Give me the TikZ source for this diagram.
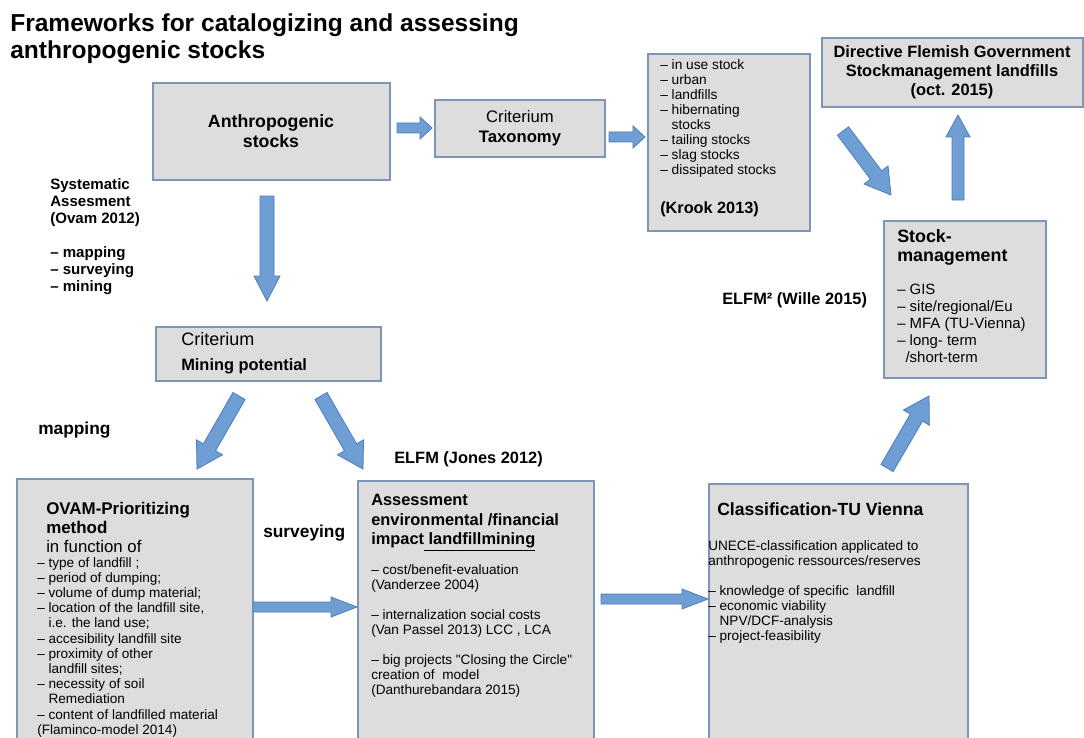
\documentclass[tikz,border=0pt]{standalone}
\usepackage{fontspec}
\setmainfont{Liberation Sans}
\newfontfamily\rawfont{Liberation Sans}
\usetikzlibrary{calc,fit}
\definecolor{boxfill}{HTML}{DDDDDD}
\definecolor{boxline}{HTML}{7F95B5}
\definecolor{arrfill}{HTML}{6F9ED4}
\definecolor{arrline}{HTML}{4D7EBA}
\tikzset{
  box/.style={draw=boxline, fill=boxfill, line width=1pt, inner sep=0pt},
  txt/.style={inner sep=0pt, align=left, anchor=north west},
  line/.style={inner sep=0pt, anchor=base west},
  blockarrowstyle/.style={fill=arrfill, draw=arrline, line width=0.6pt, line join=miter},
}
\newcommand\blockarrow[5]{%
  \coordinate (ba-n) at ($(#2)!#5!(#1)$);
  \draw[blockarrowstyle] ($(#1)!#3!90:(#2)$) -- ($(ba-n)!#3!-90:(#1)$) -- ($(ba-n)!#4!-90:(#1)$) -- (#2) -- ($(ba-n)!#4!90:(#1)$) -- ($(ba-n)!#3!90:(#1)$) -- ($(#1)!#3!-90:(#2)$) -- cycle;
}
\begin{document}
\begin{tikzpicture}[x=0.75pt,y=-0.75pt]
\useasboundingbox (0,0) rectangle (1084,738);
\path[fill=white] (0,0) rectangle (1084,738);

% boxes
\node[box, fit={(153,83)(390,180)}] (anthro) {};
\node[box, fit={(435,100)(605,157)}] (tax) {};
\node[box, fit={(648,54)(810,231)}] (krook) {};
\node[box, fit={(822,38)(1083,107)}] (direct) {};
\node[box, fit={(884,221)(1046,378)}] (stockm) {};
\node[box, fit={(156,327)(381,381)}] (mining) {};
\node[box, fit={(17,479)(253,745)}] (ovam) {};
\node[box, fit={(358,481)(594,745)}] (assess) {};
\node[box, fit={(709,484)(968,745)}] (classif) {};

% title and free labels
\node[txt, font=\fontsize{18.4pt}{20.25pt}\selectfont\bfseries] (title) at (10,13)
  {Frameworks for catalogizing and assessing\\anthropogenic stocks};
\node[txt, font=\fontsize{11.3pt}{12.75pt}\selectfont\bfseries] (syst) at (50,178)
  {Systematic\\Assesment\\(Ovam 2012)\\[12.75pt]– mapping\\– surveying\\– mining};
\node[line, font=\fontsize{13pt}{15pt}\selectfont\bfseries] (lmap) at (38,434.5) {mapping};
\node[line, font=\fontsize{13pt}{15pt}\selectfont\bfseries] (lsurv) at (263,537.5) {surveying};
\node[line, font=\fontsize{12.3pt}{15pt}\selectfont\bfseries] (ljones) at (394,463) {ELFM (Jones 2012)};
\node[line, font=\fontsize{12.3pt}{15pt}\selectfont\bfseries] (lwille) at (722,304) {ELFM² (Wille 2015)};

% box texts
\node[inner sep=0pt, align=center, font=\fontsize{13.3pt}{15pt}\selectfont\bfseries] (tanthro) at (271,131)
  {Anthropogenic\\stocks};
\node[inner sep=0pt, align=center, font=\fontsize{12.5pt}{15pt}\selectfont] (ttax) at (520,128)
  {Criterium\\\textbf{Taxonomy}};
\node[txt, font=\fontsize{10.3pt}{11.3pt}\selectfont] (tkrook) at (660,59)
  {– in use stock\\– urban\\– landfills\\– hibernating\\\phantom{– }stocks\\– tailing stocks\\– slag stocks\\– dissipated stocks};
\node[line, font=\fontsize{12.2pt}{15pt}\selectfont\bfseries] (tkrook2) at (660,213) {(Krook 2013)};
\node[inner sep=0pt, align=center, font=\fontsize{12.3pt}{14.25pt}\selectfont\bfseries] (tdirect) at (952,72)
  {Directive Flemish Government\\Stockmanagement landfills\\(oct. 2015)};
\node[txt, font=\fontsize{13.4pt}{14.25pt}\selectfont\bfseries] (tstock) at (897,229)
  {Stock-\\management};
\node[txt, font=\fontsize{11.2pt}{12.75pt}\selectfont] (tstock2) at (897,284)
  {– GIS\\– site/regional/Eu\\– MFA (TU-Vienna)\\– long- term\\\phantom{–}/short-term};
\node[line, font=\fontsize{13.5pt}{15pt}\selectfont] (tmin1) at (181,345.5) {Criterium};
\node[line, font=\fontsize{12.3pt}{15pt}\selectfont\bfseries] (tmin2) at (181,370) {Mining potential};
\node[txt, font=\fontsize{12.7pt}{14.25pt}\selectfont\bfseries] (tovam) at (46,502)
  {OVAM-Prioritizing\\method};
\node[line, font=\fontsize{12.6pt}{15pt}\selectfont] (tovam2) at (46,552) {in function of};
\node[txt, font=\fontsize{10.2pt}{11.4pt}\selectfont] (tovam3) at (37,557)
  {– type of landfill ;\\– period of dumping;\\– volume of dump material;\\– location of the landfill site,\\\phantom{– }i.e. the land use;\\– accesibility landfill site\\– proximity of other\\\phantom{– }landfill sites;\\– necessity of soil\\\phantom{– }Remediation\\– content of landfilled material\\(Flaminco-model 2014)};
\node[txt, font=\fontsize{12.3pt}{14.6pt}\selectfont\bfseries] (tassess) at (371,494)
  {Assessment\\environmental /financial\\impact\underline{ landfillmining}};
\node[txt, font=\fontsize{10.2pt}{11.25pt}\selectfont] (tassess2) at (371,564)
  {– cost/benefit-evaluation\\(Vanderzee 2004)\\[11.25pt]– internalization social costs\\(Van Passel 2013) LCC , LCA\\[11.25pt]– big projects {\rawfont"}Closing the Circle{\rawfont"}\\creation of\ \ model\\(Danthurebandara 2015)};
\node[line, font=\fontsize{13.2pt}{15pt}\selectfont\bfseries] (tclass) at (717,515) {Classification-TU Vienna};
\node[txt, font=\fontsize{10.2pt}{11.25pt}\selectfont] (tclass2) at (708,540)
  {UNECE-classification applicated to\\anthropogenic ressources/reserves\\[11.25pt]– knowledge of specific\ \ landfill\\– economic viability\\\phantom{– }NPV/DCF-analysis\\– project-feasibility};

% arrows
\coordinate (a1s) at (397,128);  \coordinate (a1e) at (432,128);
\coordinate (a2s) at (609,137);  \coordinate (a2e) at (645,137);
\coordinate (a3s) at (267,196);  \coordinate (a3e) at (267,301);
\coordinate (a4s) at (239,396);  \coordinate (a4e) at (197,469);
\coordinate (a5s) at (321,396);  \coordinate (a5e) at (363,469);
\coordinate (a6s) at (253,607);  \coordinate (a6e) at (357,607);
\coordinate (a7s) at (601,599);  \coordinate (a7e) at (708,599);
\coordinate (a8s) at (843,131);  \coordinate (a8e) at (891,195);
\coordinate (a9s) at (958,200);  \coordinate (a9e) at (958,115);
\coordinate (a10s) at (887,468); \coordinate (a10e) at (929,396);
\blockarrow{a1s}{a1e}{3.75pt}{8.25pt}{9pt}
\blockarrow{a2s}{a2e}{3.75pt}{8.25pt}{9pt}
\blockarrow{a3s}{a3e}{5.25pt}{9.75pt}{18.75pt}
\blockarrow{a4s}{a4e}{5.25pt}{11.25pt}{18.75pt}
\blockarrow{a5s}{a5e}{5.25pt}{11.25pt}{18.75pt}
\blockarrow{a6s}{a6e}{3.75pt}{7.5pt}{19.5pt}
\blockarrow{a7s}{a7e}{3.75pt}{7.5pt}{19.5pt}
\blockarrow{a8s}{a8e}{5.25pt}{11.25pt}{18.75pt}
\blockarrow{a9s}{a9e}{4.5pt}{9pt}{16.5pt}
\blockarrow{a10s}{a10e}{5.25pt}{11.25pt}{18.75pt}
\end{tikzpicture}
\end{document}
